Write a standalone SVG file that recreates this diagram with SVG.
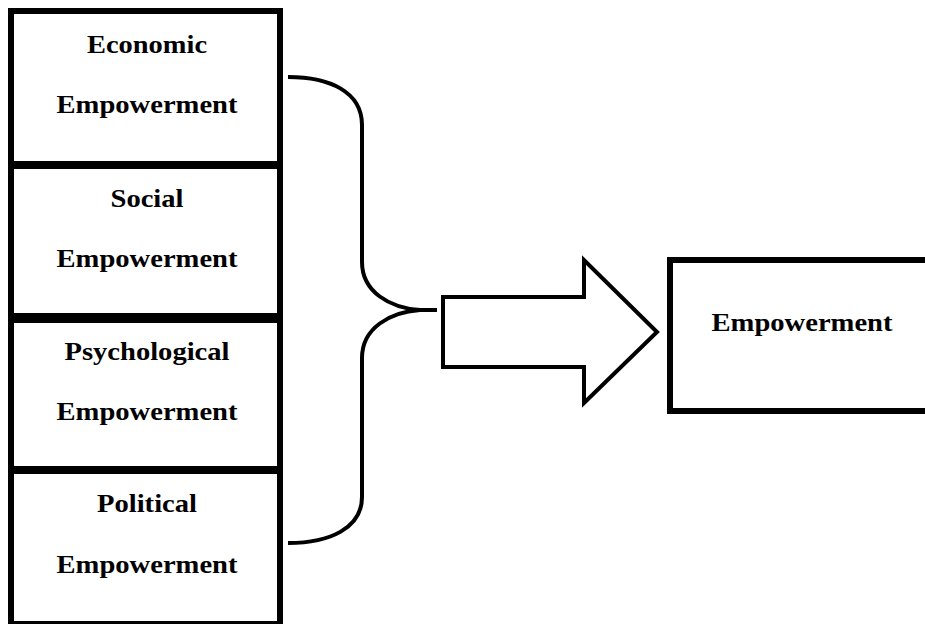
<svg xmlns="http://www.w3.org/2000/svg" width="925" height="624" viewBox="0 0 925 624">
<style>
.box{fill:#fff;stroke:#000;stroke-width:6}
.t{font-family:"Liberation Serif","Times New Roman",serif;font-weight:bold;font-size:26px;fill:#000;text-anchor:middle}
.ln{fill:none;stroke:#000;stroke-width:4}
</style>
<rect width="925" height="624" fill="#fff"/>
<g id="economic">
<rect class="box" x="11" y="11" width="269" height="153"/>
<text class="t" x="147" y="53" textLength="120" lengthAdjust="spacingAndGlyphs">Economic</text>
<text class="t" x="147" y="113" textLength="181" lengthAdjust="spacingAndGlyphs">Empowerment</text>
</g>
<g id="social">
<rect class="box" x="11" y="166" width="269" height="150"/>
<text class="t" x="147" y="207" textLength="73" lengthAdjust="spacingAndGlyphs">Social</text>
<text class="t" x="147" y="267" textLength="181" lengthAdjust="spacingAndGlyphs">Empowerment</text>
</g>
<g id="psychological">
<rect class="box" x="11" y="320" width="269" height="149"/>
<text class="t" x="147" y="360" textLength="165" lengthAdjust="spacingAndGlyphs">Psychological</text>
<text class="t" x="147" y="420" textLength="181" lengthAdjust="spacingAndGlyphs">Empowerment</text>
</g>
<g id="political">
<rect class="box" x="11" y="471" width="269" height="153"/>
<text class="t" x="147" y="512" textLength="100" lengthAdjust="spacingAndGlyphs">Political</text>
<text class="t" x="147" y="573" textLength="181" lengthAdjust="spacingAndGlyphs">Empowerment</text>
</g>
<g id="empowerment">
<rect class="box" x="670" y="260" width="270" height="151" stroke-width="5"/>
<text class="t" x="802" y="331" textLength="181" lengthAdjust="spacingAndGlyphs">Empowerment</text>
</g>
<g id="connectors">
<path class="ln" d="M288,77 C330,77 362,92 362,125 L362,262 C362,292 390,308 420,310 L437,310 M420,310 C390,312 362,328 362,358 L362,497 C362,528 330,543 288,543"/>
<polygon id="arrow" class="ln" fill="#fff" points="443,297 584,297 584,260 657,332 584,403 584,367 443,367"/>
</g>
</svg>
